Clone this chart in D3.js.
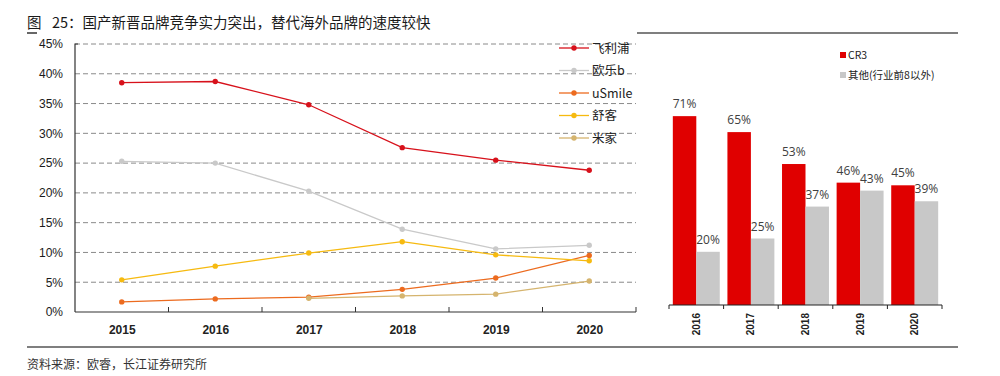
<!DOCTYPE html>
<html><head><meta charset="utf-8">
<script src="https://cdn.jsdelivr.net/npm/d3@7"></script>
<style>
body{margin:0;background:#fff;}
svg{display:block;font-family:"Liberation Sans",Arial,"Noto Sans CJK SC",sans-serif;}
</style></head>
<body>
<svg id="c" width="1000" height="376"></svg>
<script>
const years = ["2015","2016","2017","2018","2019","2020"];
const yTicks = [0,0.05,0.10,0.15,0.20,0.25,0.30,0.35,0.40,0.45];
const seriesNames = ["飞利浦","欧乐b","uSmile","舒客","米家"];
const seriesColors = ["#d7111b","#c9c9c9","#ec6b1f","#f6ba10","#d5b46e"];
const philips = [0.385,0.387,0.348,0.276,0.255,0.238];
const oralb  = [0.253,0.250,0.203,0.139,0.106,0.112];
const usmile = [0.017,0.022,0.025,0.038,0.057,0.095];
const shuke  = [0.054,0.077,0.099,0.118,0.096,0.086];
const mijia  = [null,null,0.023,0.027,0.030,0.052];
const seriesValues = [philips,oralb,usmile,shuke,mijia];

const barYears = ["2016","2017","2018","2019","2020"];
const barNames = ["CR3","其他(行业前8以外)"];
const barColors = ["#e00000","#c8c8c8"];
const cr3 = [0.71,0.65,0.53,0.46,0.45];
const others = [0.20,0.25,0.37,0.43,0.39];

const svg = d3.select("#c");
const cjk = '"Noto Sans CJK SC","Liberation Sans",Arial,sans-serif';

// title
svg.append("text").attr("x",27).attr("y",28).attr("font-size",14.5).attr("fill","#1a1a1a")
  .style("font-family",cjk).style("white-space","pre").text("图\u2002 25：国产新晋品牌竞争实力突出，替代海外品牌的速度较快");
svg.append("line").attr("x1",27).attr("x2",37).attr("y1",33).attr("y2",33).attr("stroke","#000").attr("stroke-width",1.2);
svg.append("line").attr("x1",637).attr("x2",958).attr("y1",33).attr("y2",33).attr("stroke","#000").attr("stroke-width",1.2);
svg.append("line").attr("x1",27).attr("x2",958).attr("y1",347).attr("y2",347).attr("stroke","#000").attr("stroke-width",1.2);
svg.append("text").attr("x",27).attr("y",369).attr("font-size",12).attr("fill","#333")
  .style("font-family",cjk).text("资料来源：欧睿，长江证券研究所");

// ---- left line chart
const L = {x0:75,x1:636,y0:312,y1:44};
const x = d3.scalePoint().domain(years).range([L.x0,L.x1]).padding(0.5);
const y = d3.scaleLinear().domain([0,0.45]).range([L.y0,L.y1]);
const step = x.step();

const g = svg.append("g");
// gridlines
g.selectAll(".grid").data(yTicks.filter(d=>d>0)).join("line")
  .attr("x1",L.x0).attr("x2",L.x1).attr("y1",d=>y(d)).attr("y2",d=>y(d))
  .attr("stroke","#8a8a8a").attr("stroke-width",1).attr("stroke-dasharray","5,3");
// y axis
const yAxis = d3.axisLeft(y).tickValues(yTicks).tickFormat(d=>Math.round(d*100)+"%").tickSize(0).tickPadding(12);
const ya = g.append("g").attr("transform",`translate(${L.x0},0)`).call(yAxis);
ya.select(".domain").attr("stroke","#333").attr("stroke-width",1.2).attr("d",`M3,${L.y1}H0V${L.y0}`);
ya.selectAll("text").attr("font-size",12).attr("fill","#1a1a1a").style("font-family","'Liberation Sans',Arial");
// x axis
const xa = g.append("g").attr("transform",`translate(0,${L.y0})`)
  .call(d3.axisBottom(x).tickSize(0).tickPadding(13));
xa.select(".domain").attr("stroke","#333").attr("stroke-width",1.2).attr("d",`M${L.x0},0H${L.x1}`);
xa.selectAll("text").attr("font-size",12).attr("font-weight","bold").attr("fill","#222").style("font-family","'Liberation Sans',Arial");
// category boundary ticks
const bounds = d3.range(1,years.length+1).map(i=>L.x0+step*i);
g.selectAll(".bt").data(bounds).join("line")
  .attr("x1",d=>d).attr("x2",d=>d).attr("y1",L.y0).attr("y2",L.y0-5).attr("stroke","#333").attr("stroke-width",1);

// lines
const line = d3.line().defined(d=>d.v!=null).x(d=>x(d.year)).y(d=>y(d.v));
seriesValues.forEach((vals,i)=>{
  const data = years.map((yr,j)=>({year:yr,v:vals[j]}));
  g.append("path").datum(data).attr("d",line).attr("fill","none")
    .attr("stroke",seriesColors[i]).attr("stroke-width",1.3);
  g.selectAll(".m"+i).data(data.filter(d=>d.v!=null)).join("circle")
    .attr("cx",d=>x(d.year)).attr("cy",d=>y(d.v)).attr("r",2.7).attr("fill",seriesColors[i]);
});
// legend
const lg = svg.append("g");
seriesNames.forEach((n,i)=>{
  const yy = 48 + i*22.5;
  lg.append("line").attr("x1",559).attr("x2",589).attr("y1",yy).attr("y2",yy).attr("stroke",seriesColors[i]).attr("stroke-width",1.3);
  lg.append("circle").attr("cx",574).attr("cy",yy).attr("r",2.7).attr("fill",seriesColors[i]);
  lg.append("text").attr("x",592).attr("y",yy+4.5).attr("font-size",12.5).attr("fill","#222")
    .style("font-family",cjk).text(n);
});

// ---- right bar chart
const R = {x0:669,x1:942,y0:305};
const bx = d3.scaleBand().domain(barYears).range([R.x0,R.x1]).paddingInner(0.14).paddingOuter(0.07);
const bsub = d3.scaleBand().domain([0,1]).range([0,bx.bandwidth()]);
const by = d3.scaleLinear().domain([0,1]).range([R.y0,R.y0-266]);
const rg = svg.append("g");
[cr3,others].forEach((vals,k)=>{
  rg.selectAll(".b"+k).data(vals).join("rect")
    .attr("x",(d,i)=>bx(barYears[i])+bsub(k)).attr("width",bsub.bandwidth())
    .attr("y",d=>by(d)).attr("height",d=>R.y0-by(d)).attr("fill",barColors[k]);
  rg.selectAll(".l"+k).data(vals).join("text")
    .attr("x",(d,i)=>bx(barYears[i])+bsub(k)+bsub.bandwidth()/2).attr("y",d=>by(d)-8)
    .attr("text-anchor","middle").attr("font-size",12).attr("fill","#404040")
    .style("font-family","'Open Sans','DejaVu Sans',sans-serif").text(d=>Math.round(d*100)+"%");
});
const bxa = rg.append("g").attr("transform",`translate(0,${R.y0})`)
  .call(d3.axisBottom(bx).tickSize(0).tickPadding(0));
bxa.select(".domain").attr("stroke","#222").attr("stroke-width",1.2).attr("d",`M${R.x0},0H${R.x1}`);
bxa.selectAll("text").attr("font-size",10).attr("font-weight","bold").attr("fill","#222")
  .style("font-family","'Liberation Sans',Arial")
  .attr("transform","rotate(-90)").attr("text-anchor","end").attr("dy","0.35em").attr("x",-8).attr("y",0);
const bb = [R.x0].concat(barYears.map(d=>bx(d)+bx.bandwidth()+bx.step()*bx.paddingInner()/2));
bb[bb.length-1]=R.x1;
rg.selectAll(".bt").data(bb).join("line")
  .attr("x1",d=>d).attr("x2",d=>d).attr("y1",R.y0).attr("y2",R.y0+4).attr("stroke","#222").attr("stroke-width",1);
// bar legend
barNames.forEach((n,i)=>{
  const yy = 55 + i*20;
  rg.append("rect").attr("x",840).attr("y",yy-3).attr("width",6).attr("height",6).attr("fill",barColors[i]);
  rg.append("text").attr("x",848).attr("y",yy+4).attr("font-size",10.5).attr("fill","#222")
    .style("font-family",cjk).text(n);
});
</script>
</body></html>
